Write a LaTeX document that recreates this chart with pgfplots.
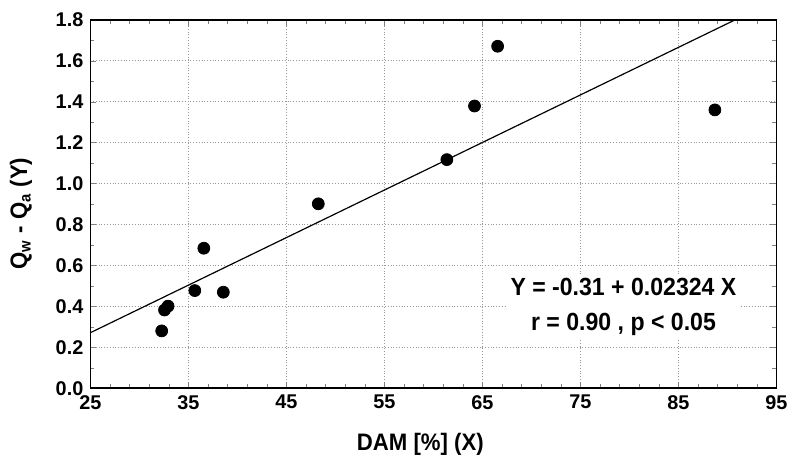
\documentclass[border=0pt]{standalone}
\usepackage{fontspec}
\setmainfont{Liberation Sans}
\newfontfamily\narrowfont{Liberation Sans}[FakeStretch=0.93]
\usepackage{pgfplots}
\pgfplotsset{compat=1.18}

\begin{document}
\begin{tikzpicture}
\begin{axis}[
    scale only axis,
    width=345.5pt, height=185.5pt,
    xmin=25, xmax=95, ymin=0, ymax=1.8,
    xtick={25,35,...,95},
    ytick={0,0.2,...,1.8},
    minor x tick num=4,
    minor y tick num=1,
    tick align=inside,
    tick pos=both,
    major tick length=3pt,
    minor tick length=2pt,
    axis line style={line width=0.8pt},
    grid=major,
    major grid style={densely dotted, gray!80, line width=0.4pt},
    /pgf/number format/assume math mode=true,
    /pgf/number format/fixed,
    /pgf/number format/fixed zerofill,
    yticklabel style={/pgf/number format/precision=1, font=\fontsize{10}{12}\selectfont\bfseries},
    xticklabel style={font=\fontsize{10}{12}\selectfont\bfseries, /pgf/number format/precision=0},
    xlabel={DAM [\%] (X)},
    ylabel={Q\textsubscript{w} - Q\textsubscript{a} (Y)},
    label style={font=\narrowfont\fontsize{12}{14}\selectfont\bfseries},
    xlabel style={at={(axis description cs:0.481,-0.1523)}, anchor=center},
    ylabel style={at={(axis description cs:-0.1013,0.474)}, anchor=center},
]
% regression line Y = -0.31 + 0.02324 X
\addplot[black, line width=0.6pt] coordinates {(25,0.271) (95,1.8978)};
% observations
\addplot[only marks, mark=*, mark size=3pt, black] coordinates {
    (32.28,0.280) (32.57,0.382) (32.93,0.401) (35.66,0.477)
    (36.58,0.684) (38.57,0.469) (48.26,0.901) (61.38,1.117)
    (64.20,1.379) (66.56,1.671) (88.73,1.360)
};
\node[fill=white, align=center, inner sep=2pt, font=\narrowfont\fontsize{12.5}{17.5}\selectfont\bfseries]
    at (axis cs:79.4,0.398) {Y = -0.31 + 0.02324 X\\ r = 0.90 , p < 0.05};
\end{axis}
\useasboundingbox (-45.5pt,-34pt) rectangle (351.5pt,195.5pt);
\end{tikzpicture}
\end{document}
